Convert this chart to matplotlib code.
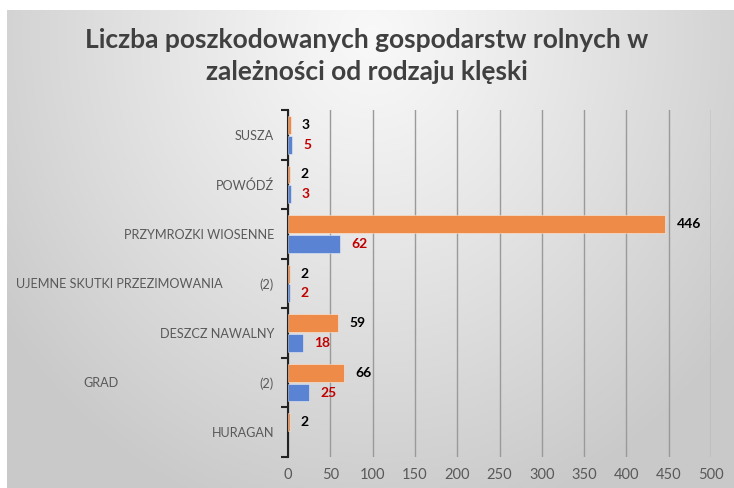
import numpy as np
import matplotlib
matplotlib.use("Agg")
import matplotlib.pyplot as plt
from matplotlib.transforms import blended_transform_factory

categories = ["SUSZA", "POWÓDŹ", "PRZYMROZKI WIOSENNE", "UJEMNE SKUTKI PRZEZIMOWANIA",
              "DESZCZ NAWALNY", "GRAD", "HURAGAN"]
suffixes = ["", "", "", "(2)", "", "(2)", ""]
series_orange = [3, 2, 446, 2, 59, 66, 2]
series_blue = [5, 3, 62, 2, 18, 25, np.nan]
xticks = [0, 50, 100, 150, 200, 250, 300, 350, 400, 450, 500]
title = "Liczba poszkodowanych gospodarstw rolnych w\nzależności od rodzaju klęski"

W, H = 734, 488
plt.rcParams['font.family'] = ['Lato', 'DejaVu Sans']
fig = plt.figure(figsize=(W / 100, H / 100), dpi=100)
fig.patch.set_facecolor("white")

# background radial gradient panel
bx0, by0 = 7 / W, 0
bw, bh = 1 - 7 / W, 1 - 10 / H
bgax = fig.add_axes([bx0, by0, bw, bh])
bgax.set_axis_off()
ny, nx = 300, 450
yy, xx = np.mgrid[0:ny, 0:nx]
cx, cy = nx * 0.5, ny * 0.05
d = np.sqrt(((xx - cx) / (nx * 0.62)) ** 2 + ((yy - cy) / (ny * 1.05)) ** 2)
d = np.clip(d, 0, 1)
val = 0.975 - (0.975 - 0.79) * d ** 1.1
img = np.dstack([val, val, val])
bgax.imshow(img, aspect="auto", extent=[0, 1, 0, 1], origin="upper")
bgax.set_xlim(0, 1)
bgax.set_ylim(0, 1)

ax = fig.add_axes([288 / W, 1 - 457 / H, (711 - 288) / W, (457 - 110) / H])
ax.patch.set_alpha(0)

n = len(categories)
y = np.arange(n)
h = 0.36
orange = "#EE8B48"
blue = "#5A83D3"
ax.barh(y - h / 2 - 0.02, series_orange, height=h, color=orange, edgecolor=(1, 1, 1, 0.5), linewidth=0.6, zorder=3)
ax.barh(y + h / 2 + 0.02, series_blue, height=h, color=blue, edgecolor=(1, 1, 1, 0.5), linewidth=0.6, zorder=3)

for yi, v in zip(y, series_orange):
    if not np.isnan(v):
        ax.annotate(f"{v:g}", (v, yi - h / 2 - 0.02), xytext=(8, 0), textcoords="offset points",
                    va="center", ha="left", fontsize=10, fontweight="bold", color="black")
for yi, v in zip(y, series_blue):
    if not np.isnan(v):
        ax.annotate(f"{v:g}", (v, yi + h / 2 + 0.02), xytext=(8, 0), textcoords="offset points",
                    va="center", ha="left", fontsize=10, fontweight="bold", color="#C00000")

ax.set_xlim(0, 500)
ax.set_ylim(n - 0.5, -0.5)
ax.set_xticks(xticks)
ax.set_xticklabels([str(t) for t in xticks])
ax.grid(axis="x", color="#9a9a9a", linewidth=1.0, zorder=0)
ax.set_axisbelow(True)
ax.tick_params(axis="x", length=0, pad=8, labelsize=10.5, labelcolor="#595959")

ax.set_yticks(y)
ax.set_yticklabels([s if s else c for c, s in zip(categories, suffixes)])
ax.set_yticks(np.arange(n + 1) - 0.5, minor=True)
ax.tick_params(axis="y", which="major", length=0, pad=10, labelsize=9.1, labelcolor="#595959")
ax.tick_params(axis="y", which="minor", length=5, width=1.5, color="#222222", direction="out")

tr = blended_transform_factory(fig.transFigure, ax.transData)
for yi, c, s in zip(y, categories, suffixes):
    if s:
        xpos = 16 / W if len(c) > 10 else 83 / W
        ax.text(xpos, yi, c, transform=tr, ha="left", va="center", fontsize=9.1, color="#595959")

for sp in ["top", "right", "bottom"]:
    ax.spines[sp].set_visible(False)
ax.spines["left"].set_color("#222222")
ax.spines["left"].set_linewidth(1.5)

fig.text(367 / W, 1 - 56 / H, title, ha="center", va="center", fontsize=19, fontweight="bold",
         color="#404040", linespacing=1.45)

fig.savefig("out.png", dpi=100)
